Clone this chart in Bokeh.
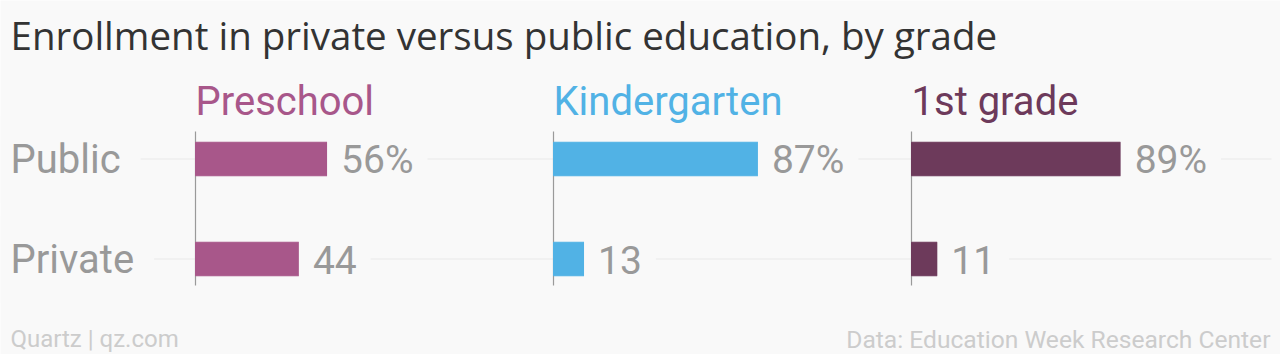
from bokeh.plotting import figure
from bokeh.models import ColumnDataSource, Range1d, Label
from bokeh.core.properties import value
from bokeh.embed import file_html
from bokeh.resources import INLINE

# ---- data ----
grades = ["Preschool", "Kindergarten", "1st grade"]
sectors = ["Public", "Private"]
public = [56, 87, 89]
private = [44, 13, 11]
colors = ["#a8578a", "#51b2e5", "#6d3a5b"]
title = "Enrollment in private versus public education, by grade"
source_left = "Quartz | qz.com"
source_right = "Data: Education Week Research Center"

# ---- layout constants ----
W, H = 1280, 354
PX = 2.35            # pixels per percentage point
AX0 = 195            # pixel position of the first panel axis
PANEL = 358 / PX     # panel spacing in data units
offsets = [i * PANEL for i in range(len(grades))]
BG = "#f9f9f9"
GRAY = "#999999"
FONT = "Roboto"
DY = 0.125 - 0.12    # baseline offset of row labels (data units)
VPAD = 14            # value label padding
CPAD = 20            # category label padding

x0, x1, ys, cols, labels = [], [], [], [], []
for gi, g in enumerate(grades):
    for si, vals in enumerate([public, private]):
        v = vals[gi]
        x0.append(offsets[gi])
        x1.append(offsets[gi] + v)
        ys.append(si)
        cols.append(colors[gi])
        labels.append(f"{v}%" if si == 0 else f"{v}")
bars = ColumnDataSource(dict(x0=x0, x1=x1, y=ys, color=cols, label=labels,
                             ly=[y + DY for y in ys]))

p = figure(width=W, height=H, output_backend="svg", toolbar_location=None,
           x_axis_type=None, y_axis_type=None,
           x_range=Range1d(-AX0 / PX, (W - AX0) / PX),
           y_range=Range1d(1.955, -1.585),
           min_border=0, background_fill_color=BG, border_fill_color=BG)
p.outline_line_color = None
p.grid.visible = False

# gridlines per row
p.segment(x0=[-66] * len(sectors), x1=[(1271 - AX0) / PX] * len(sectors),
          y0=list(range(len(sectors))), y1=list(range(len(sectors))),
          line_color="#e9e9e9", line_width=1)

# axis lines per panel
p.segment(x0=offsets, x1=offsets, y0=[-0.275] * len(grades), y1=[1.265] * len(grades),
          line_color="#9a9a9a", line_width=1.2)

# bars
p.hbar(y="y", left="x0", right="x1", height=0.335, color="color", source=bars)

# value labels
p.text(x="x1", y="ly", text="label", source=bars, x_offset=14 - VPAD,
       text_font=value(FONT), text_font_size="39px", text_color=GRAY,
       text_baseline="alphabetic", text_align="left",
       background_fill_color=BG, padding=VPAD)

# category labels
p.text(x=[(10 - CPAD - AX0) / PX] * len(sectors), y=[i + DY for i in range(len(sectors))],
       text=sectors, text_font=value(FONT), text_font_size="40px", text_color=GRAY,
       text_baseline="alphabetic", text_align="left",
       background_fill_color=BG, padding=CPAD)

# panel titles
p.text(x=offsets, y=[-0.458 - 0.12] * len(grades), text=grades, text_color=colors,
       text_font=value(FONT), text_font_size="40px", text_baseline="alphabetic",
       text_align="left")

# title and footer
p.add_layout(Label(x=10, y=H - 47.3 + 13, x_units="screen", y_units="screen", text=title,
                   text_font="Open Sans", text_font_size="38.5px", text_color="#333333",
                   text_baseline="alphabetic"))
p.add_layout(Label(x=10, y=7.3 + 8, x_units="screen", y_units="screen", text=source_left,
                   text_font=FONT, text_font_size="24px", text_color="#cccccc",
                   text_baseline="alphabetic"))
p.add_layout(Label(x=1270, y=7.3 + 8, x_units="screen", y_units="screen", text=source_right,
                   text_font=FONT, text_font_size="24.6px", text_color="#cccccc",
                   text_baseline="alphabetic", text_align="right"))

open("out.html", "w").write(file_html(p, INLINE))
